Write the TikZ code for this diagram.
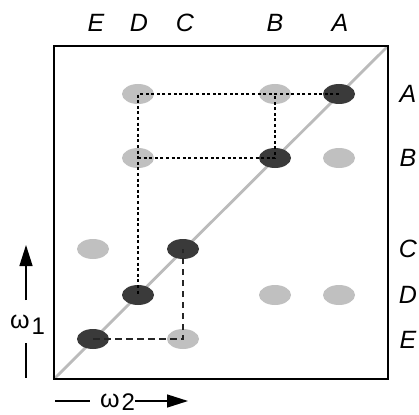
\documentclass[tikz,border=0pt]{standalone}
\usepackage{fontspec}
\setmainfont{Liberation Sans}
\usetikzlibrary{shapes.geometric,arrows.meta}
\definecolor{peakdark}{HTML}{3A3A3A}
\definecolor{peaklight}{HTML}{C0C0C0}
\definecolor{diaggray}{HTML}{BBBBBB}
\tikzset{
  frame/.style={draw=black,line width=1.5pt},
  diagline/.style={draw=diaggray,line width=2.8pt},
  darkpeak/.style={ellipse,fill=peakdark,minimum width=32pt,minimum height=20pt,inner sep=0pt},
  lightpeak/.style={ellipse,fill=peaklight,minimum width=32pt,minimum height=20pt,inner sep=0pt},
  dotpath/.style={draw=black,line width=1.3pt,dash pattern=on 3pt off 2.6pt},
  dashpath/.style={draw=black!85,line width=1.5pt,dash pattern=on 6.5pt off 4.5pt},
  lbl/.style={font=\fontsize{25}{25}\selectfont\itshape,inner sep=0pt},
  axlbl/.style={font=\fontsize{25}{25}\selectfont,inner sep=0pt,anchor=base west},
  axarrow/.style={draw=black,line width=1.4pt,-{Triangle[length=21pt,width=13pt]}},
  axline/.style={draw=black,line width=1.4pt}
}
\newcommand{\lowsub}[2]{\kern2pt\raisebox{-#1}{\fontsize{24}{24}\selectfont #2}}
\begin{document}
\begin{tikzpicture}[x=1pt,y=-1pt]
\useasboundingbox (0,0) rectangle (419,414);

% spectrum frame and diagonal
\coordinate (bl) at (54,379);
\coordinate (tr) at (388,46);
\draw[diagline] (bl) -- (tr);
\draw[frame] (54,46) rectangle (388,379);

% diagonal peaks
\node[darkpeak] (dA) at (339,94) {};
\node[darkpeak] (dB) at (275,158) {};
\node[darkpeak] (dC) at (183,249) {};
\node[darkpeak] (dD) at (138,295) {};
\node[darkpeak] (dE) at (93,339) {};

% cross peaks (column letter, row letter)
\node[lightpeak] (xDA) at (138,94) {};
\node[lightpeak] (xBA) at (275,94) {};
\node[lightpeak] (xDB) at (138,158) {};
\node[lightpeak] (xAB) at (339,158) {};
\node[lightpeak] (xEC) at (93,249) {};
\node[lightpeak] (xBD) at (275,295) {};
\node[lightpeak] (xAD) at (339,295) {};
\node[lightpeak] (xCE) at (183,339) {};

% connectivity walks
\draw[dotpath] (dA.center) -- (xDA.center) -- (dD.center);
\draw[dotpath] (xDB.center) -- (dB.center) -- (xBA.center);
\draw[dashpath] (dE.center) -- (xCE.center) -- (dC.center);

% column labels
\node[lbl] (tE) at (96,23) {E};
\node[lbl] (tD) at (139,23) {D};
\node[lbl] (tC) at (185,23) {C};
\node[lbl] (tB) at (275,23) {B};
\node[lbl] (tA) at (340,23) {A};

% row labels
\node[lbl] (rA) at (408,94) {A};
\node[lbl] (rB) at (408,158) {B};
\node[lbl] (rC) at (408,249) {C};
\node[lbl] (rD) at (408,295) {D};
\node[lbl] (rE) at (408,340) {E};

% omega_1 axis
\node[axlbl] (w1) at (10,328) {ω\lowsub{6pt}{1}};
\coordinate (w1a) at (26,300);
\coordinate (w1b) at (26,245);
\coordinate (w1c) at (26,343);
\coordinate (w1d) at (26,378);
\draw[axarrow] (w1a) -- (w1b);
\draw[axline] (w1c) -- (w1d);

% omega_2 axis
\node[axlbl] (w2) at (100,407) {ω\lowsub{3pt}{2}};
\coordinate (w2a) at (55,401);
\coordinate (w2b) at (90,401);
\coordinate (w2c) at (135,401);
\coordinate (w2d) at (188,401);
\draw[axline] (w2a) -- (w2b);
\draw[axarrow] (w2c) -- (w2d);
\end{tikzpicture}
\end{document}
